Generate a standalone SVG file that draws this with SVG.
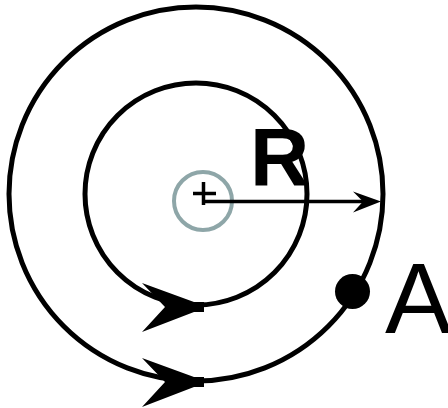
<svg xmlns="http://www.w3.org/2000/svg" width="448" height="408" viewBox="0 0 448 408">
  <style>
    .orbit { fill: none; stroke: #000; stroke-width: 5; }
    .head { fill: #000; stroke: none; }
    .lbl { font-family: "Liberation Sans", Arial, sans-serif; fill: #000; }
  </style>
  <defs>
    <path id="bigHead" d="M142,283 L194,302 L204,302 L204,312 L194,312 L142,332 L165,307 Z"/>
  </defs>
  <rect width="448" height="408" fill="#fff"/>
  <g id="outer-orbit">
    <circle class="orbit" cx="196" cy="194" r="187"/>
    <use href="#bigHead" class="head" transform="translate(0,75)"/>
  </g>
  <g id="inner-orbit">
    <circle class="orbit" cx="196" cy="194" r="111"/>
    <use href="#bigHead" class="head"/>
  </g>
  <g id="center">
    <circle cx="203" cy="201" r="29" fill="none" stroke="#8ea6a8" stroke-width="4"/>
    <path d="M193,193.5 H216 M203.5,182 V205" stroke="#000" stroke-width="3.5" fill="none"/>
  </g>
  <g id="connectors">
    <line x1="203" y1="201.5" x2="372" y2="201.5" stroke="#000" stroke-width="3.5"/>
    <path class="head" d="M353,191.5 L381,201.5 L353,212.5 L363,201.5 Z"/>
  </g>
  <g id="label-R">
    <text class="lbl" x="250" y="185" font-size="82" font-weight="bold">R</text>
  </g>
  <g id="point-A">
    <circle cx="352.5" cy="291.5" r="17.5" fill="#000"/>
    <text class="lbl" x="385" y="333" font-size="100">A</text>
  </g>
</svg>
